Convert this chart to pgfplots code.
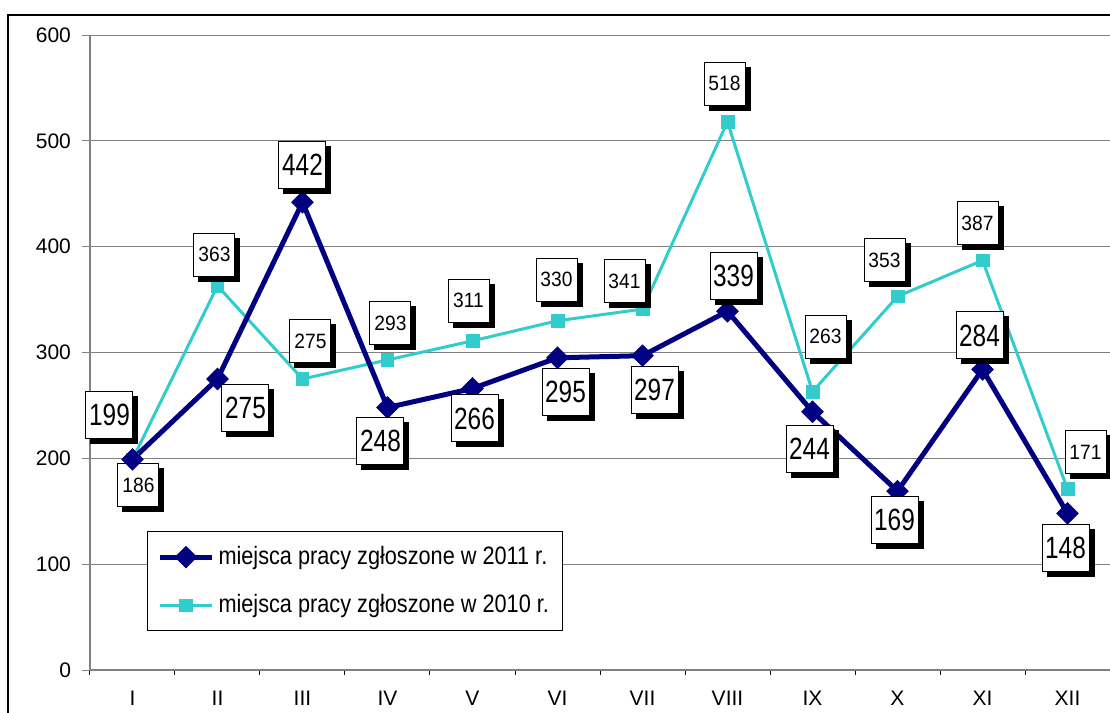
\documentclass[border=0pt]{standalone}
\usepackage{pgfplots}
\pgfplotsset{compat=1.18}
\usepackage{graphicx}
\usepackage{fontspec}
\setmainfont{Liberation Sans}
\usetikzlibrary{shadows}
\definecolor{navy2011}{HTML}{000080}
\definecolor{cyan2010}{HTML}{33CCCC}
\definecolor{gridgray}{HTML}{808080}

\pgfplotstableread{
x y lab dx dy
1 199 199 -11.5 22
2 275 275 14 -14.5
3 442 442 0 18.5
4 248 248 -3.5 -16.5
5 266 266 1 -15
6 295 295 4 -17
7 297 297 6 -17
8 339 339 3 17.5
9 244 244 -1.5 -18.5
10 169 169 -1.5 -14.5
11 284 284 -1.5 17
12 148 148 -1 -17.5
}\dataA

\pgfplotstableread{
x y lab dx dy
1 199 186 3 -13
2 363 363 -1.5 15.5
3 275 275 4 19
4 293 293 1.5 18.5
5 311 311 -2 20
6 330 330 -0.5 20.5
7 341 341 -9 14
8 518 518 -1.5 19
9 263 263 6.5 27.5
10 353 353 -6.5 18
11 387 387 -2.5 18.5
12 171 171 9 18.5
}\dataB

\tikzset{
  lab/.style={draw=black, fill=white, text=black, line width=0.5pt,
    inner sep=0pt, anchor=center,
    general shadow={fill=black, shadow xshift=2.5pt, shadow yshift=-2.5pt}},
}

\begin{document}
\begin{tikzpicture}
\useasboundingbox (-45pt,-21.5pt) rectangle (510pt,335pt);
\begin{axis}[
  at={(0,0)}, anchor=south west,
  scale only axis,
  width=510pt, height=317.5pt,
  xmin=0.5, xmax=12.5,
  ymin=0, ymax=600,
  ytick={0,100,...,600},
  xtick={1,...,12},
  xticklabels={I,II,III,IV,V,VI,VII,VIII,IX,X,XI,XII},
  minor xtick={0.5,1.5,...,12.5},
  axis x line*=bottom,
  axis y line*=left,
  axis line style={gridgray, line width=0.6pt, -},
  tick align=outside,
  major tick length=4pt,
  minor tick length=2.5pt,
  x tick style={draw=none},
  minor x tick style={draw=black, line width=0.5pt},
  y tick style={gridgray, line width=0.5pt},
  ymajorgrids,
  major grid style={gridgray, line width=0.5pt},
  tick label style={font=\fontsize{10.5}{12}\selectfont},
  xticklabel style={yshift=-3pt},
  yticklabel style={xshift=-2pt},
  /pgf/number format/assume math mode=true,
  reverse legend,
  legend style={at={(0.0559,0.2189)}, anchor=north west, draw=black,
    line width=0.5pt, fill=white, font=\fontsize{10.85}{12}\selectfont,
    inner xsep=5pt, inner ysep=5.5pt, row sep=9.5pt},
  legend cell align=left,
  legend image code/.code={%
    \draw[mark repeat=2, mark phase=2] plot coordinates {(0pt,0pt) (13pt,0pt) (26pt,0pt)};},
]
\addplot[color=cyan2010, line width=1.5pt, mark=square*,
  mark size=3.2pt, mark options={solid, line width=0.4pt, fill=cyan2010},
  nodes near coords, point meta=explicit symbolic,
  visualization depends on={\thisrow{dx} \as \dx},
  visualization depends on={\thisrow{dy} \as \dy},
  every node near coord/.style={lab, minimum width=20.5pt, minimum height=21.5pt,
    font=\fontsize{9.6}{11}\selectfont, xshift=\dx pt, yshift=\dy pt},
  nodes near coords={\scalebox{1}[1.08]{\pgfplotspointmeta}},
] table[x=x, y=y, meta=lab] {\dataB};
\addlegendentry{\scalebox{1}[1.16]{miejsca pracy zgłoszone w 2010 r.}}

\addplot[color=navy2011, line width=2.5pt, mark=square*,
  mark size=3.8pt, mark options={solid, rotate=45, line width=0.4pt, fill=navy2011},
  nodes near coords, point meta=explicit symbolic,
  visualization depends on={\thisrow{dx} \as \dx},
  visualization depends on={\thisrow{dy} \as \dy},
  every node near coord/.style={lab, minimum width=23.5pt, minimum height=23.5pt,
    font=\fontsize{12.2}{14}\selectfont, xshift=\dx pt, yshift=\dy pt},
  nodes near coords={\scalebox{1}[1.26]{\pgfplotspointmeta}},
] table[x=x, y=y, meta=lab] {\dataA};
\addlegendentry{\scalebox{1}[1.16]{miejsca pracy zgłoszone w 2011 r.}}
\end{axis}
\draw[black, line width=0.6pt] (-41pt,-40pt) rectangle (530pt,327.5pt);
\end{tikzpicture}
\end{document}
